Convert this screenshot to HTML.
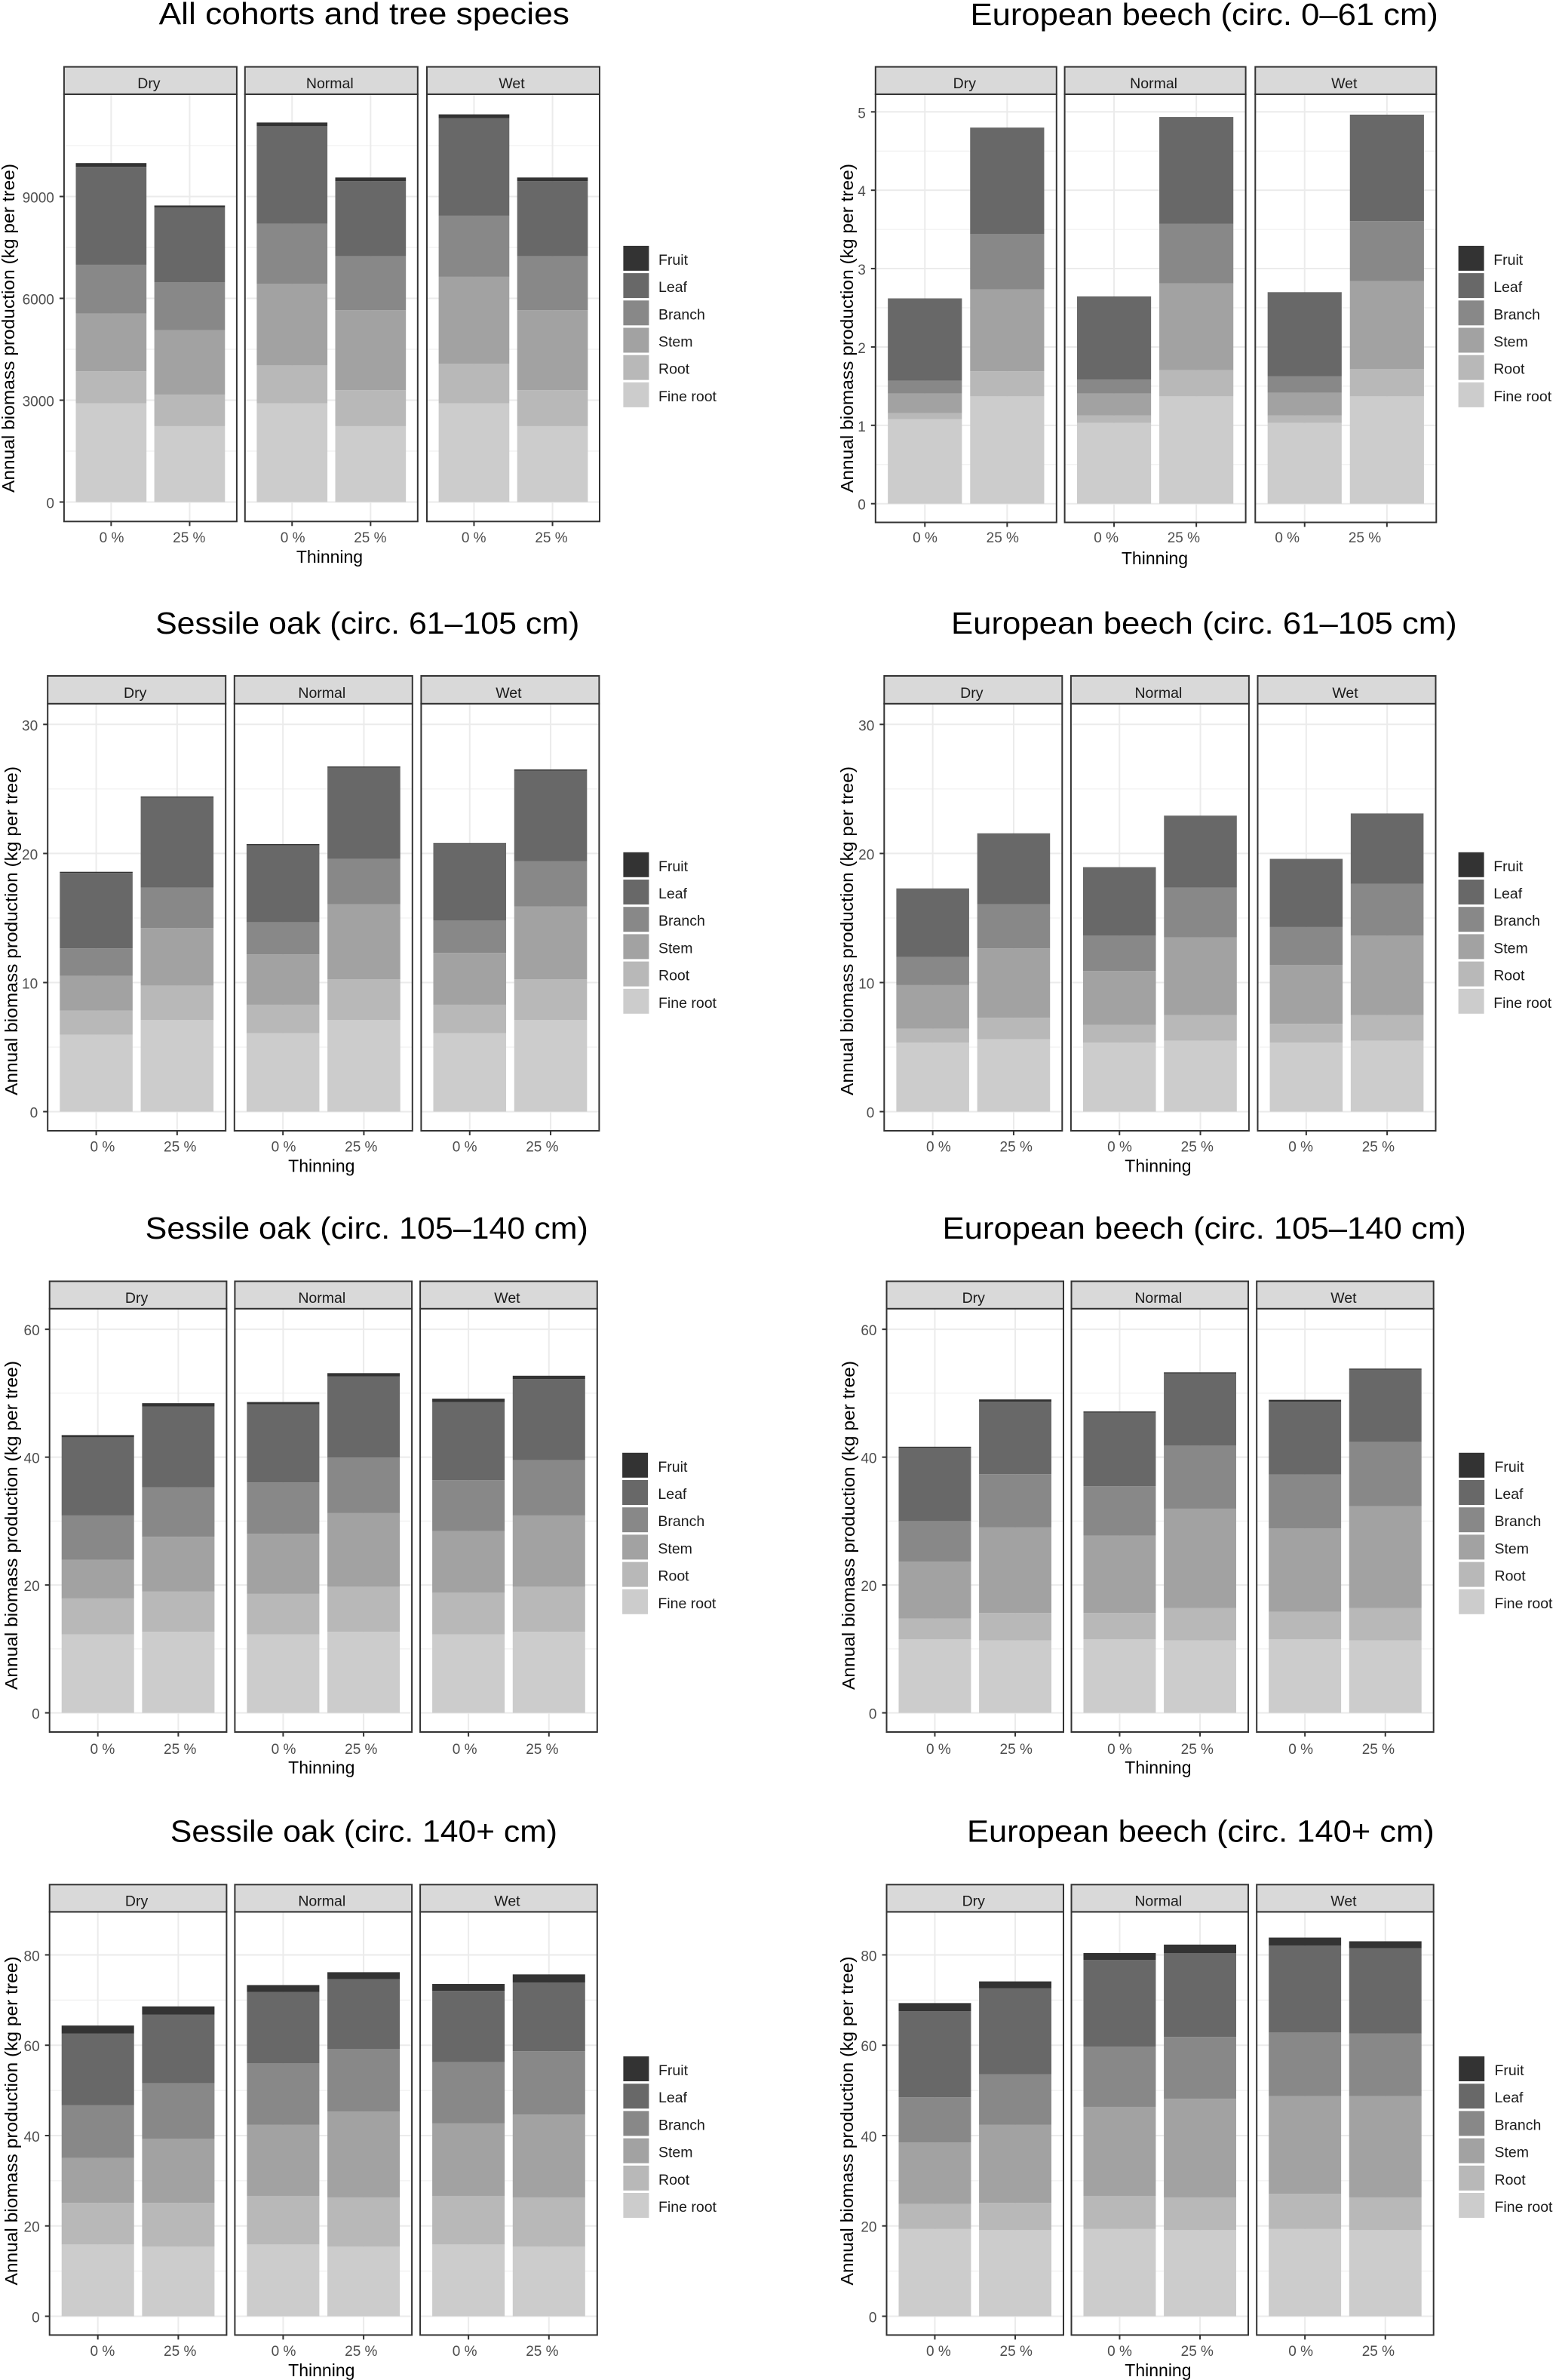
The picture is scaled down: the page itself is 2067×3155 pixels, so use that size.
<!DOCTYPE html>
<html lang="en">
<head>
<meta charset="utf-8">
<title>Annual biomass production per tree</title>
<style>
html,body{margin:0;padding:0;background:#fff;}
svg{display:block;font-family:"Liberation Sans",sans-serif;}
</style>
</head>
<body>
<svg id="figure" xmlns="http://www.w3.org/2000/svg" width="2067" height="3155" viewBox="0 0 2067 3155"></svg>
<script>
// Shared categories. Every series array is ordered:
// Dry 0 %, Dry 25 %, Normal 0 %, Normal 25 %, Wet 0 %, Wet 25 %
const moistureLevels = ["Dry", "Normal", "Wet"];
const thinningLevels = ["0 %", "25 %"];
const legendLabels = ["Fruit", "Leaf", "Branch", "Stem", "Root", "Fine root"];

const allTicks = [0, 3000, 6000, 9000];
const allFineRoot = [2910, 2235, 2910, 2235, 2910, 2235];
const allRoot = [940, 930, 1115, 1060, 1160, 1060];
const allStem = [1700, 1900, 2400, 2355, 2565, 2355];
const allBranch = [1440, 1405, 1770, 1590, 1800, 1590];
const allLeaf = [2885, 2210, 2875, 2210, 2875, 2210];
const allFruit = [110, 55, 110, 110, 110, 110];

const beechATicks = [0, 1, 2, 3, 4, 5];
const beechAFineRoot = [1.08, 1.37, 1.03, 1.37, 1.03, 1.37];
const beechARoot = [0.075, 0.32, 0.095, 0.335, 0.095, 0.35];
const beechAStem = [0.25, 1.045, 0.28, 1.105, 0.29, 1.12];
const beechABranch = [0.165, 0.705, 0.18, 0.76, 0.21, 0.765];
const beechALeaf = [1.045, 1.355, 1.055, 1.36, 1.07, 1.355];
const beechAFruit = [0.004, 0.004, 0.004, 0.004, 0.004, 0.004];

const oakBTicks = [0, 10, 20, 30];
const oakBFineRoot = [5.96, 7.09, 6.08, 7.09, 6.08, 7.09];
const oakBRoot = [1.86, 2.68, 2.2, 3.17, 2.2, 3.17];
const oakBStem = [2.7, 4.45, 3.9, 5.82, 4.02, 5.64];
const oakBBranch = [2.13, 3.13, 2.5, 3.51, 2.5, 3.49];
const oakBLeaf = [5.84, 6.98, 5.96, 7.07, 5.93, 7.03];
const oakBFruit = [0.09, 0.09, 0.09, 0.08, 0.07, 0.09];

const beechBTicks = [0, 10, 20, 30];
const beechBFineRoot = [5.35, 5.61, 5.35, 5.49, 5.35, 5.49];
const beechBRoot = [1.07, 1.66, 1.37, 1.98, 1.45, 1.98];
const beechBStem = [3.38, 5.38, 4.18, 6.02, 4.57, 6.16];
const beechBBranch = [2.18, 3.43, 2.73, 3.86, 2.93, 4.02];
const beechBLeaf = [5.29, 5.46, 5.29, 5.56, 5.26, 5.43];
const beechBFruit = [0.02, 0.02, 0.02, 0.02, 0.02, 0.02];

const oakCTicks = [0, 20, 40, 60];
const oakCFineRoot = [12.27, 12.68, 12.27, 12.68, 12.27, 12.68];
const oakCRoot = [5.63, 6.29, 6.34, 7.05, 6.52, 7.05];
const oakCStem = [6.06, 8.57, 9.39, 11.51, 9.63, 11.15];
const oakCBranch = [6.92, 7.75, 8.05, 8.69, 7.98, 8.64];
const oakCLeaf = [12.22, 12.62, 12.21, 12.68, 12.22, 12.68];
const oakCFruit = [0.35, 0.53, 0.36, 0.53, 0.53, 0.53];

const beechCTicks = [0, 20, 40, 60];
const beechCFineRoot = [11.51, 11.33, 11.51, 11.33, 11.51, 11.33];
const beechCRoot = [3.23, 4.29, 4.11, 5.05, 4.29, 5.05];
const beechCStem = [8.92, 13.38, 12.09, 15.56, 13.03, 15.97];
const beechCBranch = [6.34, 8.34, 7.75, 9.86, 8.46, 10.04];
const beechCLeaf = [11.45, 11.34, 11.51, 11.28, 11.39, 11.28];
const beechCFruit = [0.18, 0.35, 0.18, 0.18, 0.29, 0.18];

const oakDTicks = [0, 20, 40, 60, 80];
const oakDFineRoot = [15.89, 15.4, 15.89, 15.4, 15.89, 15.4];
const oakDRoot = [9.2, 9.69, 10.75, 10.91, 10.75, 10.91];
const oakDStem = [9.94, 14.18, 15.72, 18.99, 16.05, 18.33];
const oakDBranch = [11.73, 12.3, 13.61, 13.84, 13.6, 14.02];
const oakDLeaf = [15.81, 15.23, 15.8, 15.48, 15.73, 15.23];
const oakDFruit = [1.79, 1.8, 1.55, 1.55, 1.54, 1.79];

const beechDTicks = [0, 20, 40, 60, 80];
const beechDFineRoot = [19.31, 19.06, 19.31, 19.06, 19.31, 19.06];
const beechDRoot = [5.54, 6.03, 7.33, 7.25, 7.82, 7.25];
const beechDStem = [13.6, 17.27, 19.71, 21.84, 21.59, 22.41];
const beechDBranch = [10.02, 11.24, 13.36, 13.68, 14.09, 13.85];
const beechDLeaf = [19.07, 18.99, 19.15, 18.58, 19.23, 18.9];
const beechDFruit = [1.79, 1.54, 1.55, 1.87, 1.79, 1.54];

// Stack order bottom to top; legend order is top to bottom.
const stackFills = ["#cccccc", "#b8b8b8", "#a2a2a2", "#888888", "#686868", "#333333"];
const stackKeys = ["fine-root", "root", "stem", "branch", "leaf", "fruit"];
const legendFills = ["#333333", "#686868", "#888888", "#a2a2a2", "#b8b8b8", "#cccccc"];

const charts = [
  { key: "all-cohorts", title: "All cohorts and tree species", ticks: allTicks,
    series: [allFineRoot, allRoot, allStem, allBranch, allLeaf, allFruit],
    titleX: 210.6, titleLen: 544.3, titleY: 32,
    lefts: [84.9, 324.8, 566.0], panelW: 229, stripTop: 88.6, stripBottom: 124.9, panelBottom: 691.3,
    zeroY: 665.5, pxPerUnit: 0.045,
    yTitleX: 19, yTitleMid: 435, xTitleX: 437, xTitleY: 746, tickLabelX: 148, tickLabelY: 719,
    legendX: 826.4, legendY: 325.9, legendTextX: 873 },
  { key: "beech-0-61", title: "European beech (circ. 0–61 cm)", ticks: beechATicks,
    series: [beechAFineRoot, beechARoot, beechAStem, beechABranch, beechALeaf, beechAFruit],
    titleX: 1286.5, titleLen: 620.3, titleY: 33,
    lefts: [1160.8, 1411.6, 1664.3], panelW: 240, stripTop: 88.6, stripBottom: 124.9, panelBottom: 692.5,
    zeroY: 667.7, pxPerUnit: 103.88,
    yTitleX: 1131, yTitleMid: 435, xTitleX: 1531, xTitleY: 748, tickLabelX: 1226.5, tickLabelY: 719,
    legendX: 1933.6, legendY: 325.9, legendTextX: 1980.2 },
  { key: "oak-61-105", title: "Sessile oak (circ. 61–105 cm)", ticks: oakBTicks,
    series: [oakBFineRoot, oakBRoot, oakBStem, oakBBranch, oakBLeaf, oakBFruit],
    titleX: 206.1, titleLen: 562.2, titleY: 839.8,
    lefts: [63.2, 310.8, 558.4], panelW: 236, stripTop: 896, stripBottom: 932.8, panelBottom: 1499,
    zeroY: 1473.6, pxPerUnit: 17.11,
    yTitleX: 23, yTitleMid: 1234, xTitleX: 426.3, xTitleY: 1553.7, tickLabelX: 135.9, tickLabelY: 1526.3,
    legendX: 826.4, legendY: 1129.8, legendTextX: 873 },
  { key: "beech-61-105", title: "European beech (circ. 61–105 cm)", ticks: beechBTicks,
    series: [beechBFineRoot, beechBRoot, beechBStem, beechBBranch, beechBLeaf, beechBFruit],
    titleX: 1261, titleLen: 670.7, titleY: 839.8,
    lefts: [1172.3, 1419.9, 1667.5], panelW: 236, stripTop: 896, stripBottom: 932.8, panelBottom: 1499,
    zeroY: 1473.6, pxPerUnit: 17.11,
    yTitleX: 1131, yTitleMid: 1234, xTitleX: 1535.4, xTitleY: 1553.7, tickLabelX: 1244.4, tickLabelY: 1526.3,
    legendX: 1933.6, legendY: 1129.8, legendTextX: 1980.2 },
  { key: "oak-105-140", title: "Sessile oak (circ. 105–140 cm)", ticks: oakCTicks,
    series: [oakCFineRoot, oakCRoot, oakCStem, oakCBranch, oakCLeaf, oakCFruit],
    titleX: 192.7, titleLen: 587.1, titleY: 1642,
    lefts: [65.7, 311.4, 557.1], panelW: 234.7, stripTop: 1698.5, stripBottom: 1734.8, panelBottom: 2296,
    zeroY: 2270.6, pxPerUnit: 8.474,
    yTitleX: 23, yTitleMid: 2022, xTitleX: 426.3, xTitleY: 2351, tickLabelX: 135.9, tickLabelY: 2324.8,
    legendX: 825.1, legendY: 1925.8, legendTextX: 872.4 },
  { key: "beech-105-140", title: "European beech (circ. 105–140 cm)", ticks: beechCTicks,
    series: [beechCFineRoot, beechCRoot, beechCStem, beechCBranch, beechCLeaf, beechCFruit],
    titleX: 1249.5, titleLen: 694.3, titleY: 1642,
    lefts: [1175.5, 1420.5, 1666.2], panelW: 234.5, stripTop: 1698.5, stripBottom: 1734.8, panelBottom: 2296,
    zeroY: 2270.6, pxPerUnit: 8.474,
    yTitleX: 1133, yTitleMid: 2022, xTitleX: 1535.4, xTitleY: 2351, tickLabelX: 1244.4, tickLabelY: 2324.8,
    legendX: 1934.2, legendY: 1925.8, legendTextX: 1981.5 },
  { key: "oak-140-plus", title: "Sessile oak (circ. 140+ cm)", ticks: oakDTicks,
    series: [oakDFineRoot, oakDRoot, oakDStem, oakDBranch, oakDLeaf, oakDFruit],
    titleX: 225.9, titleLen: 513.1, titleY: 2441.7,
    lefts: [65.7, 311.4, 557.1], panelW: 234.7, stripTop: 2498.3, stripBottom: 2534.4, panelBottom: 3095.4,
    zeroY: 3070.5, pxPerUnit: 5.988,
    yTitleX: 23, yTitleMid: 2811.5, xTitleX: 426.3, xTitleY: 3150, tickLabelX: 135.9, tickLabelY: 3123,
    legendX: 826.4, legendY: 2726, legendTextX: 873 },
  { key: "beech-140-plus", title: "European beech (circ. 140+ cm)", ticks: beechDTicks,
    series: [beechDFineRoot, beechDRoot, beechDStem, beechDBranch, beechDLeaf, beechDFruit],
    titleX: 1282, titleLen: 619.7, titleY: 2441.7,
    lefts: [1175.5, 1420.5, 1666.2], panelW: 234.5, stripTop: 2498.3, stripBottom: 2534.4, panelBottom: 3095.4,
    zeroY: 3070.5, pxPerUnit: 5.988,
    yTitleX: 1131, yTitleMid: 2811.5, xTitleX: 1535.4, xTitleY: 3150, tickLabelX: 1244.4, tickLabelY: 3123,
    legendX: 1934.2, legendY: 2726, legendTextX: 1981.5 }
];

const SVG_NS = "http://www.w3.org/2000/svg";
const figure = document.getElementById("figure");

function make(parent, tag, props, text) {
  const node = document.createElementNS(SVG_NS, tag);
  for (const k in props) node.setAttribute(k, props[k]);
  if (text !== undefined) node.textContent = text;
  parent.appendChild(node);
  return node;
}

function drawChart(c) {
  // Axis functions
  const yScale = v => c.zeroY - v * c.pxPerUnit;
  const bandUnit = c.panelW / 2.2;
  const xScale = (panel, cat) => c.lefts[panel] + (0.6 + cat) * bandUnit;
  const barWidth = 0.9 * bandUnit;

  const group = make(figure, "g", {});
  
  

  const title = make(group, "text", { x: c.titleX, y: c.titleY, "font-size": 41, fill: "#000",
    textLength: c.titleLen, lengthAdjust: "spacingAndGlyphs" }, c.title);
  
  

  const yTitle = make(group, "text", { x: 0, y: 0, "font-size": 23, fill: "#000", "text-anchor": "middle",
    transform: "translate(" + c.yTitleX + " " + c.yTitleMid + ") rotate(-90)",
    textLength: 436, lengthAdjust: "spacingAndGlyphs" }, "Annual biomass production (kg per tree)");
  
  

  const xTitle = make(group, "text", { x: c.xTitleX, y: c.xTitleY, "font-size": 23, fill: "#000",
    "text-anchor": "middle" }, "Thinning");
  
  

  // Y tick labels and marks on the first panel
  const step = c.ticks[1] - c.ticks[0];
  c.ticks.forEach(t => {
    const y = yScale(t);
    const tick = make(group, "line", { x1: c.lefts[0] - 6, x2: c.lefts[0], y1: y, y2: y, stroke: "#333", "stroke-width": 2 });
    
    
    const label = make(group, "text", { x: c.lefts[0] - 13, y: y + 8, "font-size": 19, fill: "#4d4d4d",
      "text-anchor": "end" }, String(t));
    
    
  });

  moistureLevels.forEach((level, p) => {
    const left = c.lefts[p];
    const w = c.panelW;
    const panel = make(group, "g", {});
    
    

    const bg = make(panel, "rect", { x: left, y: c.stripBottom, width: w, height: c.panelBottom - c.stripBottom, fill: "#fff" });
    
    

    // Minor and major horizontal grid
    c.ticks.forEach(t => {
      const my = yScale(t + step / 2);
      if (my > c.stripBottom + 3) {
        const minor = make(panel, "line", { x1: left, x2: left + w, y1: my, y2: my, stroke: "#f0f0f0", "stroke-width": 1.2 });
        
        
      }
      const y = yScale(t);
      const major = make(panel, "line", { x1: left, x2: left + w, y1: y, y2: y, stroke: "#ebebeb", "stroke-width": 2 });
      
      
    });

    thinningLevels.forEach((thin, q) => {
      const cx = xScale(p, q);
      const vgrid = make(panel, "line", { x1: cx, x2: cx, y1: c.stripBottom, y2: c.panelBottom, stroke: "#ebebeb", "stroke-width": 2 });
      
      
    });

    thinningLevels.forEach((thin, q) => {
      const idx = p * 2 + q;
      const cx = xScale(p, q);
      let base = 0;
      c.series.forEach((arr, s) => {
        const v = arr[idx];
        const yTop = yScale(base + v);
        const yBot = yScale(base);
        const bar = make(panel, "rect", { x: cx - barWidth / 2, y: yTop, width: barWidth, height: yBot - yTop, fill: stackFills[s] });
        
        
        base += v;
      });
      const tick = make(group, "line", { x1: cx, x2: cx, y1: c.panelBottom, y2: c.panelBottom + 6, stroke: "#333", "stroke-width": 2 });
      
      
      const label = make(group, "text", { x: c.tickLabelX + p * 240.1 + q * 102.8, y: c.tickLabelY, "font-size": 19,
        fill: "#4d4d4d", "text-anchor": "middle" }, thin);
      
      
    });

    const border = make(panel, "rect", { x: left, y: c.stripBottom, width: w, height: c.panelBottom - c.stripBottom,
      fill: "none", stroke: "#333", "stroke-width": 2 });
    
    

    const strip = make(panel, "rect", { x: left, y: c.stripTop, width: w, height: c.stripBottom - c.stripTop,
      fill: "#d9d9d9", stroke: "#333", "stroke-width": 2 });
    
    

    const stripLabel = make(panel, "text", { x: left + w / 2 - 2, y: c.stripBottom - 8, "font-size": 19.5,
      fill: "#1a1a1a", "text-anchor": "middle" }, level);
    
    
  });

  // Legend
  const legend = make(group, "g", {});
  
  
  legendLabels.forEach((name, i) => {
    const top = c.legendY + i * 36.2;
    const swatch = make(legend, "rect", { x: c.legendX, y: top, width: 34, height: 33, fill: legendFills[i] });
    
    
    const label = make(legend, "text", { x: c.legendTextX, y: top + 25, "font-size": 19.5, fill: "#1a1a1a" }, name);
    
    
  });
}

charts.forEach(drawChart);
</script>
</body>
</html>
